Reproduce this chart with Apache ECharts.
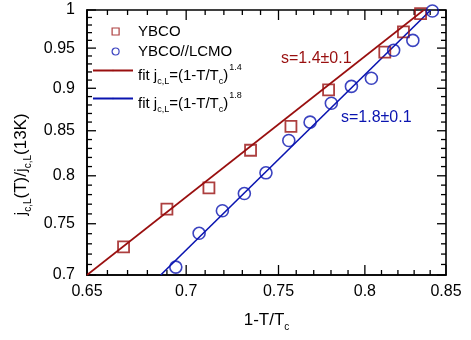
<!DOCTYPE html>
<html><head><meta charset="utf-8">
<script src="https://cdn.jsdelivr.net/npm/echarts@6/dist/echarts.min.js"></script>
<style>html,body{margin:0;padding:0;background:#fff}#c{width:471px;height:340px}</style>
</head><body><div id="c"></div>
<script>
// ---- data ----
var ybcoX = [0.668, 0.690, 0.712, 0.7345, 0.757, 0.7786, 0.812, 0.8234, 0.834];
var ybcoY = [0.727, 0.765, 0.787, 0.828, 0.855, 0.898, 0.945, 0.971, 0.995];
var lcmoX = [0.6946, 0.7068, 0.7192, 0.7311, 0.743, 0.7558, 0.7679, 0.7802, 0.792, 0.8039, 0.8174, 0.8292, 0.8414];
var lcmoY = [0.7075, 0.7404, 0.7632, 0.7811, 0.8032, 0.8389, 0.8599, 0.882, 0.9023, 0.9122, 0.9472, 0.9599, 0.9986];
var fitRedX = [0.65, 0.836];
var fitRedY = [0.70, 1.00];
var fitBlueX = [0.6868, 0.8404];
var fitBlueY = [0.70, 1.00];
var xRange = [0.65, 0.85];
var yRange = [0.7, 1];
var xTicks = [0.65, 0.7, 0.75, 0.8, 0.85];
var xTickLabels = ['0.65', '0.7', '0.75', '0.8', '0.85'];
var xMinor = [0.66,0.67,0.68,0.69,0.71,0.72,0.73,0.74,0.76,0.77,0.78,0.79,0.81,0.82,0.83,0.84];
var yTicks = [0.7, 0.75, 0.8, 0.85, 0.9, 0.95, 1];
var yTickLabels = ['0.7', '0.75', '0.8', '0.85', '0.9', '0.95', '1'];
var yMinor = [0.71,0.72,0.73,0.74,0.76,0.77,0.78,0.79,0.81,0.82,0.83,0.84,0.86,0.87,0.88,0.89,0.91,0.92,0.93,0.94,0.96,0.97,0.98,0.99];
var names = ['YBCO', 'YBCO//LCMO', 'fit1', 'fit2'];

function zip(a, b) { return a.map(function (v, i) { return [v, b[i]]; }); }

var RED = '#990f0f', BLUE = '#0a14b0';
var FONT = 'Liberation Sans, Arial, sans-serif';
var rich = {
  n: { fontSize: 15, lineHeight: 15, padding: [5, 0, 0, 0], verticalAlign: 'top', fontFamily: FONT, color: '#000' },
  s: { fontSize: 9, lineHeight: 9, padding: [14, 0, 0, 0], verticalAlign: 'top', fontFamily: FONT, color: '#000' },
  p: { fontSize: 9, lineHeight: 9, padding: [0, 0, 0, 1], verticalAlign: 'top', fontFamily: FONT, color: '#000' },
  q: { fontSize: 15, lineHeight: 15, padding: [0, 0, 0, 14], verticalAlign: 'top', fontFamily: FONT, color: '#000' }
};
var richName = {
  n: { fontSize: 17, lineHeight: 17, padding: [0, 0, 0, 0], verticalAlign: 'top', fontFamily: FONT, color: '#000' },
  s: { fontSize: 10, lineHeight: 10, padding: [10, 0, 0, 0], verticalAlign: 'top', fontFamily: FONT, color: '#000' }
};

function labelFor(vals, labels) {
  return function (v) {
    for (var i = 0; i < vals.length; i++) if (Math.abs(vals[i] - v) < 1e-6) return labels[i];
    return '';
  };
}

// tick items: [x, y, kind]  kind 0 x-major, 1 x-minor, 2 y-major, 3 y-minor, 4 frame
var tickItems = []
  .concat(xTicks.map(function (v) { return [v, yRange[0], 0]; }))
  .concat(xMinor.map(function (v) { return [v, yRange[0], 1]; }))
  .concat(yTicks.map(function (v) { return [xRange[0], v, 2]; }))
  .concat(yMinor.map(function (v) { return [xRange[0], v, 3]; }))
  .concat([[xRange[0], yRange[0], 4]]);
var TICK_LEN = [10, 5, 9, 5];

function renderTick(params, api) {
  var cs = params.coordSys;
  var kind = api.value(2);
  var p = api.coord([api.value(0), api.value(1)]);
  var st = { stroke: '#000', lineWidth: 1.3 };
  if (kind === 4) {
    return { type: 'rect', shape: { x: cs.x, y: cs.y, width: cs.width, height: cs.height },
      style: { stroke: '#000', lineWidth: 1.6, fill: 'none' } };
  }
  var L = TICK_LEN[kind];
  var top = cs.y, bottom = cs.y + cs.height, left = cs.x, right = cs.x + cs.width;
  if (kind < 2) {
    return { type: 'group', children: [
      { type: 'line', shape: { x1: p[0], y1: bottom, x2: p[0], y2: bottom - L }, style: st },
      { type: 'line', shape: { x1: p[0], y1: top, x2: p[0], y2: top + L }, style: st }
    ] };
  }
  return { type: 'group', children: [
    { type: 'line', shape: { x1: left, y1: p[1], x2: left + L, y2: p[1] }, style: st },
    { type: 'line', shape: { x1: right, y1: p[1], x2: right - L, y2: p[1] }, style: st }
  ] };
}

function legendAt(name, left, top, w, h, fmt) {
  return {
    data: [name], left: left, top: top, padding: 0, itemWidth: w, itemHeight: h, itemGap: 0,
    textStyle: { fontSize: 15, color: '#000', fontFamily: FONT, rich: rich },
    itemStyle: { borderWidth: 1.2 },
    formatter: fmt, selectedMode: false
  };
}

var chart = echarts.init(document.getElementById('c'), null, { renderer: 'canvas' });
chart.setOption({
  animation: false,
  backgroundColor: '#fff',
  grid: { left: 87, right: 25, top: 10, bottom: 65 },
  xAxis: [{
    type: 'log', min: xRange[0], max: xRange[1], position: 'bottom',
    axisLine: { show: true, onZero: false, lineStyle: { color: '#000', width: 1.6 } },
    axisTick: { show: false },
    axisLabel: { show: true, customValues: xTicks, margin: 9, fontSize: 16, color: '#000', fontFamily: FONT, formatter: labelFor(xTicks, xTickLabels) },
    splitLine: { show: false },
    name: '{n|1-T/T}{s|c}', nameLocation: 'middle', nameGap: 37, nameTextStyle: { rich: richName }
  }],
  yAxis: [{
    type: 'log', min: yRange[0], max: yRange[1], position: 'left',
    axisLine: { show: true, onZero: false, lineStyle: { color: '#000', width: 1.6 } },
    axisTick: { show: false },
    axisLabel: { show: true, customValues: yTicks, margin: 12, fontSize: 16, color: '#000', fontFamily: FONT, formatter: labelFor(yTicks, yTickLabels) },
    splitLine: { show: false },
    name: '{n|j}{s|c,L}{n|(T)/j}{s|c,L}{n|(13K)}', nameLocation: 'middle', nameGap: 44, nameRotate: 90,
    nameTextStyle: { rich: richName, padding: [0, 44, 0, 0] }
  }],
  legend: [
    legendAt(names[0], 111.5, 24, 7, 7, function () { return '{q|YBCO}'; }),
    legendAt(names[1], 111.5, 44, 7, 7, function () { return '{q|YBCO//LCMO}'; }),
    legendAt(names[2], 92, 63, 40, 2, function () { return '{n|fit j}{s|c,L}{n|=(1-T/T}{s|c}{n|)}{p|1.4}'; }),
    legendAt(names[3], 92, 91, 40, 2, function () { return '{n|fit j}{s|c,L}{n|=(1-T/T}{s|c}{n|)}{p|1.8}'; })
  ],
  series: [
    { type: 'custom', id: 'frame', silent: true, clip: false, data: tickItems, renderItem: renderTick, z: 1 },
    { name: names[2], type: 'line', data: zip(fitRedX, fitRedY), showSymbol: false, symbol: 'none',
      lineStyle: { color: RED, width: 1.6 }, itemStyle: { color: RED }, z: 2 },
    { name: names[3], type: 'line', data: zip(fitBlueX, fitBlueY), showSymbol: false, symbol: 'none',
      lineStyle: { color: BLUE, width: 1.6 }, itemStyle: { color: BLUE }, z: 2 },
    { name: names[0], type: 'scatter', data: zip(ybcoX, ybcoY), symbol: 'rect', symbolSize: 11,
      itemStyle: { color: 'rgba(255,255,255,0)', borderColor: RED, borderWidth: 1.8 }, z: 3 },
    { name: names[1], type: 'scatter', data: zip(lcmoX, lcmoY), symbol: 'circle', symbolSize: 12,
      itemStyle: { color: 'rgba(255,255,255,0)', borderColor: BLUE, borderWidth: 1.6 }, z: 3 }
  ],
  graphic: [
    { type: 'text', left: 281, top: 51, style: { text: 's=1.4\u00b10.1', fontSize: 16, fontFamily: FONT, fill: RED } },
    { type: 'text', left: 341, top: 110, style: { text: 's=1.8\u00b10.1', fontSize: 16, fontFamily: FONT, fill: BLUE } }
  ]
});
</script></body></html>
